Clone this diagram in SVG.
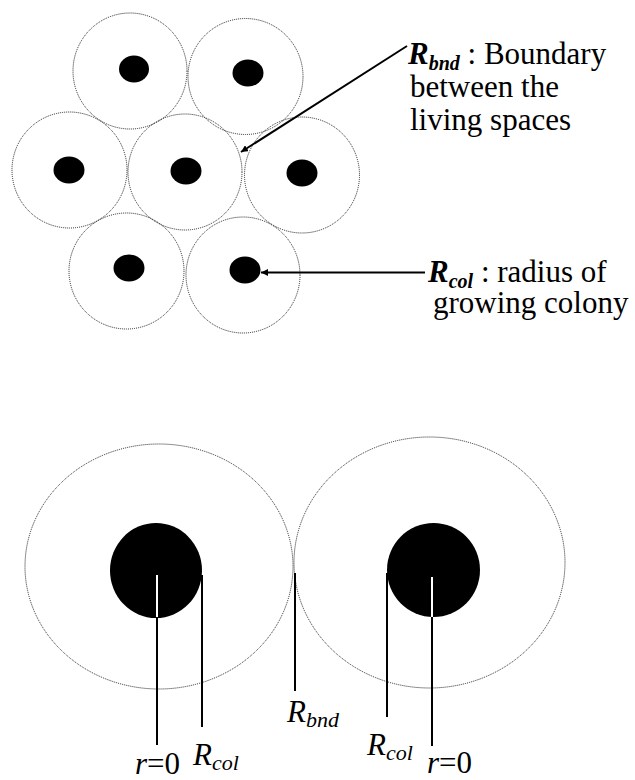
<svg xmlns="http://www.w3.org/2000/svg" width="635" height="780" viewBox="0 0 635 780">
<style>
.cell{fill:none;stroke:#222;stroke-width:1;stroke-dasharray:1 1}
.dot{fill:#000}
.t{font-family:'Liberation Serif','DejaVu Serif',serif;font-size:31px;fill:#000}
.lead{stroke:#000;stroke-width:2;fill:none}
</style>
<defs>
<marker id="ah" viewBox="0 0 10 10" refX="10" refY="5" markerWidth="7" markerHeight="7" markerUnits="userSpaceOnUse" orient="auto">
<path d="M0,0 L10,5 L0,10 z" fill="#000"/>
</marker>
</defs>
<rect width="635" height="780" fill="#fff"/>
<g id="cell1"><ellipse class="cell" cx="130" cy="71" rx="57" ry="58"/><ellipse class="dot" cx="134" cy="69" rx="15" ry="13.5"/></g>
<g id="cell2"><ellipse class="cell" cx="245.5" cy="76.5" rx="57.5" ry="58"/><ellipse class="dot" cx="248" cy="73" rx="15.5" ry="13.5"/></g>
<g id="cell3"><ellipse class="cell" cx="69.5" cy="170" rx="57.5" ry="58"/><ellipse class="dot" cx="69" cy="170" rx="15.5" ry="13.5"/></g>
<g id="cell4"><ellipse class="cell" cx="185" cy="172" rx="57" ry="58"/><ellipse class="dot" cx="186" cy="171" rx="15.5" ry="13.5"/></g>
<g id="cell5"><ellipse class="cell" cx="302" cy="175" rx="57.5" ry="58"/><ellipse class="dot" cx="302" cy="173" rx="15.5" ry="13.5"/></g>
<g id="cell6"><ellipse class="cell" cx="126.5" cy="271" rx="57.5" ry="58"/><ellipse class="dot" cx="129" cy="268" rx="15.5" ry="13.5"/></g>
<g id="cell7"><ellipse class="cell" cx="243" cy="275" rx="57" ry="58"/><ellipse class="dot" cx="245" cy="270" rx="15.5" ry="13.5"/></g>

<g id="label-bnd">
<text class="t" x="408" y="64"><tspan font-weight="bold" font-style="italic">R</tspan><tspan font-weight="bold" font-style="italic" font-size="20" dy="6">bnd</tspan><tspan dy="-6"> : Boundary</tspan></text>
<text class="t" x="410" y="97">between the</text>
<text class="t" x="410" y="130">living spaces</text>
</g>
<g id="label-col">
<text class="t" x="428" y="282"><tspan font-weight="bold" font-style="italic">R</tspan><tspan font-weight="bold" font-style="italic" font-size="20" dy="6">col</tspan><tspan dy="-6"> : radius of</tspan></text>
<text class="t" x="433" y="313">growing colony</text>
</g>

<g id="left-space"><ellipse class="cell" cx="159" cy="566.5" rx="134" ry="122.5"/><ellipse class="dot" cx="156" cy="570.5" rx="46" ry="47.5"/></g>
<g id="right-space"><ellipse class="cell" cx="429.5" cy="562.5" rx="135.5" ry="125.5"/><ellipse class="dot" cx="433.5" cy="570" rx="46.5" ry="47"/></g>

<g id="connectors">
<line class="lead" x1="407" y1="46" x2="241" y2="152" marker-end="url(#ah)"/>
<line class="lead" x1="425" y1="272.5" x2="261" y2="272.5" marker-end="url(#ah)"/>
<line x1="157" y1="575" x2="157" y2="617" stroke="#fff" stroke-width="2"/>
<line class="lead" x1="157" y1="617" x2="157" y2="745"/>
<line class="lead" x1="202" y1="575" x2="202" y2="727"/>
<line class="lead" x1="295" y1="573" x2="295" y2="691"/>
<line class="lead" x1="387" y1="573" x2="387" y2="717"/>
<line x1="432" y1="577" x2="432" y2="617" stroke="#fff" stroke-width="2"/>
<line class="lead" x1="432" y1="617" x2="432" y2="746"/>
</g>

<g id="axis-labels">
<text class="t" x="135" y="774"><tspan font-style="italic">r</tspan>=0</text>
<text class="t" x="193" y="765"><tspan font-style="italic">R</tspan><tspan font-style="italic" font-size="22" dy="5">col</tspan></text>
<text class="t" x="287" y="722"><tspan font-style="italic">R</tspan><tspan font-style="italic" font-size="22" dy="5">bnd</tspan></text>
<text class="t" x="367" y="755"><tspan font-style="italic">R</tspan><tspan font-style="italic" font-size="22" dy="5">col</tspan></text>
<text class="t" x="427" y="773"><tspan font-style="italic">r</tspan>=0</text>
</g>
</svg>
